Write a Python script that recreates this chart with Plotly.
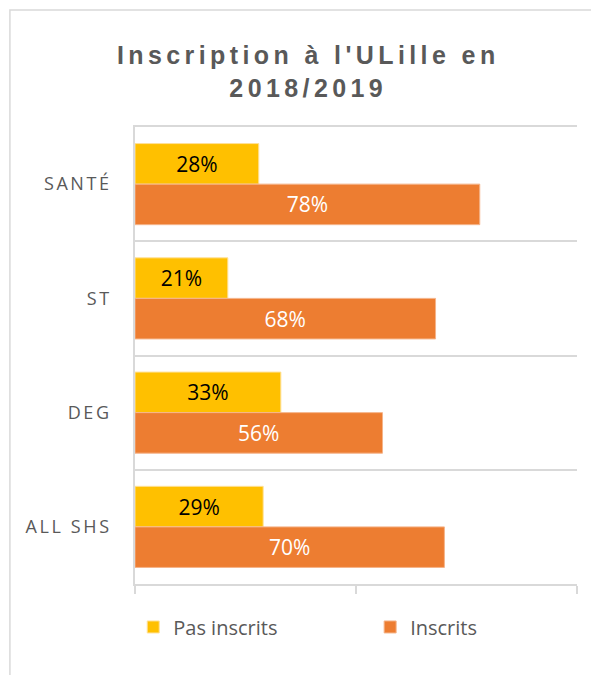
import plotly.graph_objects as go

categories = ["SANTÉ", "ST", "DEG", "ALL SHS"]
pas_inscrits = [28, 21, 33, 29]
inscrits = [78, 68, 56, 70]
series_names = ["Pas inscrits", "Inscrits"]
title_text = "Inscription à l'ULille en<br>2018/2019"

YELLOW = "#FFC000"
ORANGE = "#ED7D31"
GRID = "#D9D9D9"
TXT = "#595959"
FONT = "Open Sans"

fig = go.Figure()
fig.add_trace(go.Bar(
    y=categories, x=pas_inscrits, name=series_names[0], orientation="h",
    marker=dict(color=YELLOW, line=dict(color="#FFE199", width=1)),
    texttemplate="%{x}%", textposition="inside", insidetextanchor="middle",
    textfont=dict(color="black", size=21, family=FONT), constraintext="none",
    hoverinfo="skip", legend="legend",
))
fig.add_trace(go.Bar(
    y=categories, x=inscrits, name=series_names[1], orientation="h",
    marker=dict(color=ORANGE, line=dict(color="#F5B48A", width=1)),
    texttemplate="%{x}%", textposition="inside", insidetextanchor="middle",
    textfont=dict(color="white", size=21, family=FONT), constraintext="none",
    hoverinfo="skip", legend="legend2",
))

legend_common = dict(orientation="h", xanchor="left", xref="paper",
                     y=-0.094, yanchor="middle",
                     font=dict(size=20, color=TXT, family=FONT),
                     itemwidth=30, bgcolor="rgba(0,0,0,0)")

fig.update_layout(
    width=591, height=667,
    margin=dict(l=127, r=22, t=119, b=91),
    paper_bgcolor="white", plot_bgcolor="white",
    barmode="group", bargap=0.29, bargroupgap=0,
    title=dict(text=title_text, x=0.508, xref="container", xanchor="center",
               y=0.916, yref="container", yanchor="top",
               font=dict(family="Liberation Sans", size=25, color=TXT, weight="bold")),
    font=dict(family=FONT, color=TXT),
    showlegend=True,
    legend=dict(x=-0.004, **legend_common),
    legend2=dict(x=0.532, **legend_common),
    xaxis=dict(range=[0, 100], tickvals=[0, 50, 100], showticklabels=False,
               ticks="outside", ticklen=8, tickwidth=1.5, tickcolor=GRID,
               showgrid=False, zeroline=False, showline=True, linecolor=GRID,
               linewidth=1.5, mirror=True, fixedrange=True),
    yaxis=dict(autorange="reversed", showgrid=True, gridcolor=GRID, gridwidth=1.5,
               tickson="boundaries", ticks="", showline=True, linecolor=GRID,
               linewidth=1.5, ticklabelstandoff=18,
               tickfont=dict(size=18, color=TXT, family=FONT), fixedrange=True),
    shapes=[dict(type="rect", xref="paper", yref="paper",
                 x0=-0.283, x1=1.2, y0=-0.3, y1=1.256,
                 line=dict(color=GRID, width=1.5), fillcolor="rgba(0,0,0,0)",
                 layer="below")],
)

spacing_js = """
document.querySelectorAll('.gtitle').forEach(function(t){t.style.letterSpacing='4.4px';});
document.querySelectorAll('.ytick text').forEach(function(t){t.style.letterSpacing='2.6px';});
"""

fig.write_html("out.html", post_script=spacing_js)
